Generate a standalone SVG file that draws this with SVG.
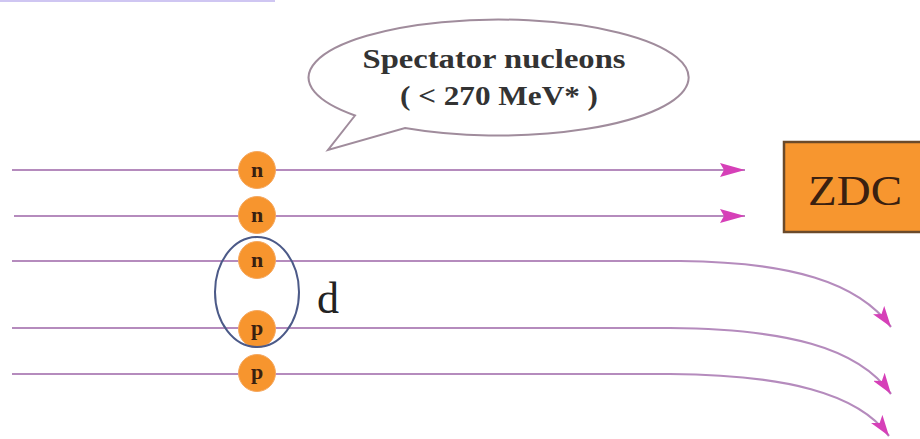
<svg xmlns="http://www.w3.org/2000/svg" width="920" height="439" viewBox="0 0 920 439">
<defs>
<style>
.beam{fill:none;stroke:#b58bbd;stroke-width:2.2}
.nuc circle{fill:#f7952e;stroke:#f5a860;stroke-width:1}
.nuc text{font-family:"Liberation Serif",serif;font-weight:bold;font-size:22px;fill:#3a2010;text-anchor:middle}
.bub{font-family:"Liberation Serif",serif;font-weight:bold;font-size:28px;fill:#333333;text-anchor:middle}
</style>
<marker id="ahS" markerUnits="userSpaceOnUse" markerWidth="26" markerHeight="16" viewBox="0 0 26 16" refX="25" refY="8" orient="auto">
<path d="M0,1 L25,8 L0,15 L4,8 Z" fill="#d640b8"/>
</marker>
<marker id="ahC" markerUnits="userSpaceOnUse" markerWidth="22" markerHeight="14" viewBox="0 0 22 14" refX="21" refY="7" orient="auto">
<path d="M0,0 L21,7 L0,14 L5,7 Z" fill="#d640b8"/>
</marker>
</defs>
<rect width="920" height="439" fill="#ffffff"/>
<rect x="0" y="0" width="275" height="2" fill="#cfc6f2"/>

<g id="connectors">
<path class="beam" d="M12 170 L745 170" marker-end="url(#ahS)"/>
<path class="beam" d="M14 216 L745 216" marker-end="url(#ahS)"/>
<path class="beam" d="M12 261 L680 261 C790 262 858 282 891 327" marker-end="url(#ahC)"/>
<path class="beam" d="M12 328 L670 328 C785 329 858 347 891 394" marker-end="url(#ahC)"/>
<path class="beam" d="M12 374 L670 374 C785 375 858 393 889 436" marker-end="url(#ahC)"/>
</g>

<g id="bubble">
<path d="M355 115.5 L328 150 L405 128 A190 58 0 1 0 355 115.5 Z" fill="#ffffff" stroke="#a08c9c" stroke-width="2"/>
<text class="bub" x="494" y="68" textLength="263" lengthAdjust="spacingAndGlyphs">Spectator nucleons</text>
<text class="bub" x="499" y="105" textLength="198" lengthAdjust="spacingAndGlyphs">( &lt; 270 MeV* )</text>
</g>

<g id="n1" class="nuc"><circle cx="257" cy="170" r="18.5"/><text x="257" y="177">n</text></g>
<g id="n2" class="nuc"><circle cx="257" cy="215" r="18.5"/><text x="257" y="222">n</text></g>
<g id="n3" class="nuc"><circle cx="257" cy="260" r="18.5"/><text x="257" y="267">n</text></g>
<g id="p1" class="nuc"><circle cx="257" cy="329" r="18.5"/><text x="257" y="335">p</text></g>
<g id="p2" class="nuc"><circle cx="257" cy="373" r="18.5"/><text x="257" y="379">p</text></g>

<g id="deuteron">
<ellipse cx="257" cy="292" rx="42" ry="55" fill="none" stroke="#4c5a88" stroke-width="2"/>
<text x="317" y="313" font-family="Liberation Serif, serif" font-size="44" fill="#222222">d</text>
</g>

<g id="zdc">
<rect x="784" y="142" width="150" height="90" fill="#f7962f" stroke="#6b4a2a" stroke-width="2.5"/>
<text x="855" y="205" font-family="Liberation Serif, serif" font-size="42" fill="#3a2010" text-anchor="middle" textLength="94" lengthAdjust="spacingAndGlyphs">ZDC</text>
</g>
</svg>
